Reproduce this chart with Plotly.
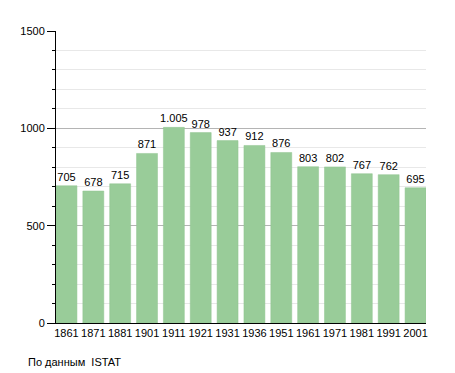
import plotly.graph_objects as go

years = ["1861", "1871", "1881", "1901", "1911", "1921", "1931", "1936", "1951", "1961", "1971", "1981", "1991", "2001"]
population = [705, 678, 715, 871, 1005, 978, 937, 912, 876, 803, 802, 767, 762, 695]
y_ticks = [0, 500, 1000, 1500]
source_note = "По данным  ISTAT"

FONT = "Liberation Sans, Arial, sans-serif"
gap = 0.22

fig = go.Figure(go.Bar(
    x=years, y=population,
    marker=dict(color="#99cc99", line=dict(color="#90c490", width=0.5)),
    texttemplate="%{y:,}", textposition="outside", constraintext="none",
    textfont=dict(family=FONT, size=11, color="black"),
    cliponaxis=False,
))

fig.update_layout(
    width=447, height=365,
    margin=dict(l=42, r=29, t=23, b=50, pad=0),
    paper_bgcolor="white", plot_bgcolor="white",
    separators=",.",
    bargap=gap,
    showlegend=False,
    font=dict(family=FONT, size=11, color="black"),
    xaxis=dict(
        type="category", showline=True, linecolor="black", linewidth=1,
        ticks="", tickfont=dict(size=11), showgrid=False,
        range=[-0.5 + gap / 2, len(years) - 0.5 - gap / 2],
    ),
    yaxis=dict(
        range=[0, 1500], tickvals=y_ticks, tickformat="d",
        showline=True, linecolor="black", linewidth=1,
        ticks="outside", ticklen=8, tickcolor="black", tickwidth=1,
        showgrid=True, gridcolor="#b4b4b4", gridwidth=1,
        zeroline=False, tickfont=dict(size=11),
        minor=dict(dtick=100, ticks="outside", ticklen=3, tickcolor="black",
                   showgrid=True, gridcolor="#e8e8e8", gridwidth=1),
    ),
    annotations=[dict(
        text=source_note, xref="paper", yref="paper",
        x=-30 / 376, y=-39 / 292, xanchor="left", yanchor="middle",
        showarrow=False, font=dict(size=11, color="black"),
    )],
)

fig.write_html("out.html")
